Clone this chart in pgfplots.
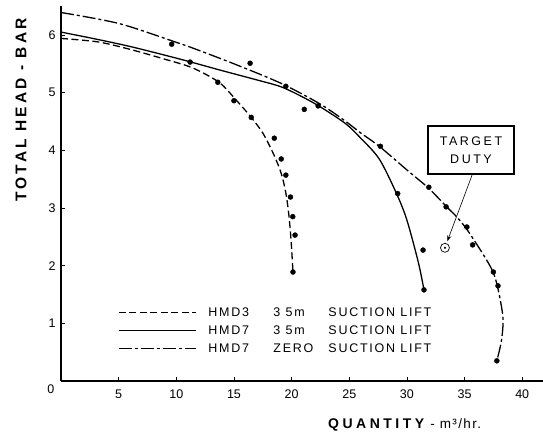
\documentclass[border=0pt]{standalone}
\usepackage{pgfplots}
\pgfplotsset{compat=1.18}
\usetikzlibrary{arrows.meta}
\usepackage{fontspec}
\setmainfont{Liberation Sans}
\begin{document}
\begin{tikzpicture}
\useasboundingbox (-61pt,-53pt) rectangle (482pt,381pt);
\begin{axis}[
  anchor=origin, at={(0pt,0pt)},
  x=11.53pt, y=57.67pt,
  xmin=0, xmax=41.8, ymin=0, ymax=6.5,
  axis lines=left,
  axis line style={-, line width=1.1pt},
  xtick={5,10,...,40}, ytick={1,2,3,4,5,6},
  tick align=inside, major tick length=4pt,
  tick style={black, line width=0.8pt},
  /pgf/number format/assume math mode=true,
  ticklabel style={font=\fontsize{12.5}{14}\selectfont},
  xticklabel style={yshift=-5pt},
  yticklabel style={xshift=-2pt},
  clip=false,
  legend image code/.code={\draw[#1] (0pt,0pt) -- (77pt,0pt);},
  legend cell align=left,
  legend style={draw=none, fill=none, inner xsep=0pt, inner ysep=0pt,
    at={(axis cs:4.94,1.274)}, anchor=north west,
    nodes={inner sep=0pt, text height=9pt, text depth=0pt},
    row sep=9pt,
    /tikz/every odd column/.append style={column sep=12pt},
    font=\fontsize{12.5}{14}\selectfont\addfontfeature{LetterSpace=14}},
]
% HMD3 3.5m suction lift (dashed)
\addplot[black, line width=1.3pt, dash pattern=on 7pt off 3.5pt, smooth] coordinates {
(0,5.94) (3.2,5.88) (6,5.75) (9,5.58) (11.4,5.43) (13.7,5.18) (15.2,4.87) (16.5,4.57)
(17.5,4.30) (18.4,3.95) (19.1,3.6) (19.5,3.26) (19.75,2.9) (19.95,2.45) (20.12,1.89)};
\addlegendentry{\makebox[65pt][l]{HMD3}\makebox[55pt][l]{3 5m}SUCTION LIFT}
% HMD7 3.5m suction lift (solid)
\addplot[black, line width=1.3pt, smooth] coordinates {
(0,6.05) (3,5.93) (6,5.8) (9,5.65) (11.1,5.54) (14,5.38) (17,5.22) (19.1,5.10)
(21,4.92) (22.6,4.74) (24.7,4.46) (25.9,4.23) (27.6,3.85) (29.1,3.25) (30.0,2.79)
(31.0,2.05) (31.48,1.58)};
\addlegendentry{\makebox[65pt][l]{HMD7}\makebox[55pt][l]{3 5m}SUCTION LIFT}
% HMD7 zero suction lift (dash-dot)
\addplot[black, line width=1.3pt, dash pattern=on 13pt off 3pt on 3pt off 3pt, smooth] coordinates {
(0,6.39) (5,6.2) (9.6,5.9) (11.2,5.79) (15,5.5) (19.1,5.16) (22.5,4.8) (24.7,4.5)
(26,4.3) (27.6,4.07) (30,3.66) (31.9,3.34) (33.4,3.03) (34.3,2.85) (35.2,2.63)
(36.6,2.2) (37.45,1.9) (37.9,1.6) (38.33,1.1) (38.2,0.7) (37.8,0.35)};
\addlegendentry{\makebox[65pt][l]{HMD7}\makebox[55pt][l]{ZERO}SUCTION LIFT}
% measured points
\addplot[only marks, mark=*, mark size=2.5pt, black, forget plot] coordinates {
(11.2,5.53) (13.6,5.18) (15.0,4.86) (16.5,4.57) (18.5,4.21) (19.1,3.85) (19.5,3.57)
(19.9,3.19) (20.1,2.85) (20.3,2.53) (20.12,1.89)};
\addplot[only marks, mark=*, mark size=2.5pt, black, forget plot] coordinates {
(19.5,5.11) (21.1,4.71) (22.3,4.77) (29.2,3.25) (31.4,2.27) (31.48,1.58)};
\addplot[only marks, mark=*, mark size=2.5pt, black, forget plot] coordinates {
(9.6,5.84) (16.4,5.51) (27.7,4.07) (31.9,3.36) (33.4,3.02) (35.2,2.67) (35.7,2.36)
(37.5,1.89) (37.9,1.65) (37.8,0.35)};
% target duty
\addplot[only marks, mark=o, mark size=4.5pt, black, line width=0.7pt, forget plot] coordinates {(33.3,2.31)};
\addplot[only marks, mark=*, mark size=0.8pt, black, forget plot] coordinates {(33.3,2.31)};
\draw[line width=0.6pt, -{Stealth[length=6pt,width=4pt]}] (axis cs:35.65,3.57) -- (axis cs:33.5,2.42);
\node[draw, line width=1.5pt, minimum width=86pt, minimum height=48pt, inner sep=0pt,
  align=center, font=\fontsize{12.5}{18}\selectfont\addfontfeature{LetterSpace=20}]
  at (axis cs:35.56,4.005) {TARGET\\DUTY};
% labels
\node[font=\fontsize{12.5}{14}\selectfont] at (axis cs:-0.87,-0.14) {0};
\node[rotate=90, anchor=center, font=\bfseries\fontsize{15.5}{18}\selectfont\addfontfeature{LetterSpace=20}]
  at (axis cs:-3.47,4.70) {TOTAL HEAD - BAR};
\node[anchor=base west, inner sep=0pt] at (axis cs:23.16,-0.815)
  {{\bfseries\fontsize{14}{16}\selectfont\addfontfeature{LetterSpace=25}QUANTITY}\hspace{6pt}{\fontsize{13.5}{16}\selectfont\addfontfeature{LetterSpace=10}- m³/hr.}};
\end{axis}
\end{tikzpicture}
\end{document}
